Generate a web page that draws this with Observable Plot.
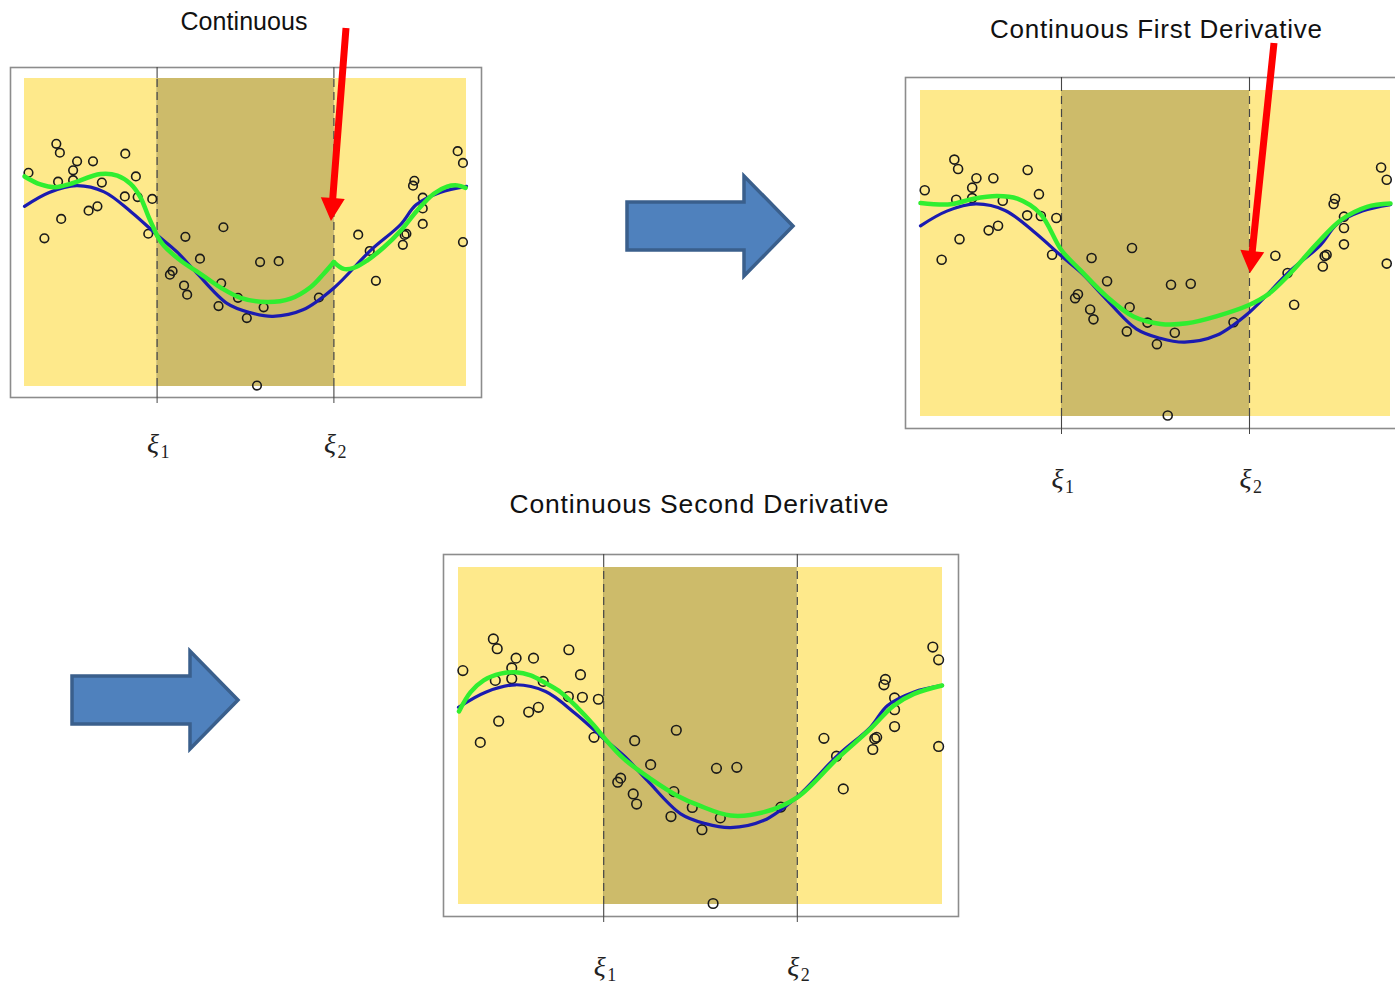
<!DOCTYPE html>
<html><head><meta charset="utf-8">
<script src="https://cdn.jsdelivr.net/npm/d3@7"></script>
<script src="https://cdn.jsdelivr.net/npm/@observablehq/plot@0.6"></script>
<style>
html,body{margin:0;padding:0;background:#fff;}
body{width:1395px;height:986px;overflow:hidden;position:relative;}
.panel{position:absolute;}
.panel svg{background:transparent !important;max-width:none !important;overflow:visible;}
#overlay{position:absolute;left:0;top:0;pointer-events:none;}
</style></head><body>
<div id="p1" class="panel"></div>
<div id="p2" class="panel"></div>
<div id="p3" class="panel"></div>
<svg id="overlay" width="1395" height="986"></svg>
<script>
// ---- data (x, y normalised to the plotting region) ----
const knots = [0.3, 0.7];
const knotSymbol = ["ξ", "ξ"];
const knotSubscript = ["1", "2"];
const titles = ["Continuous", "Continuous First Derivative", "Continuous Second Derivative"];

const observations = [
  [0.009,0.694],[0.045,0.481],[0.072,0.788],[0.076,0.665],[0.080,0.759],[0.083,0.544],
  [0.110,0.702],[0.110,0.670],[0.119,0.731],[0.145,0.571],[0.155,0.731],[0.165,0.585],
  [0.175,0.662],[0.227,0.617],[0.228,0.756],[0.252,0.682],[0.256,0.615],[0.280,0.496],
  [0.289,0.609],[0.329,0.363],[0.335,0.375],[0.361,0.328],[0.364,0.486],[0.368,0.298],
  [0.397,0.415],[0.439,0.261],[0.445,0.335],[0.450,0.517],[0.483,0.288],[0.503,0.222],
  [0.526,0.003],[0.533,0.404],[0.541,0.257],[0.575,0.407],[0.666,0.289],[0.755,0.493],
  [0.781,0.440],[0.795,0.343],[0.856,0.460],[0.860,0.492],[0.864,0.496],[0.879,0.652],
  [0.882,0.668],[0.901,0.613],[0.901,0.578],[0.901,0.528],[0.980,0.764],[0.992,0.726],
  [0.992,0.469]
];

const trueCurve = [
  [0,0.585],[0.056,0.630],[0.118,0.652],[0.180,0.632],[0.242,0.566],[0.300,0.492],
  [0.345,0.437],[0.390,0.368],[0.459,0.269],[0.510,0.240],[0.562,0.228],[0.630,0.249],
  [0.700,0.320],[0.783,0.442],[0.851,0.526],[0.886,0.590],[0.940,0.630],[1.0,0.650]
];

// Continuous piecewise cubic (three pieces, kink at the knots)
const fitContinuous = [
  [[0,0.682],[0.036,0.656],[0.070,0.647],[0.104,0.658],[0.172,0.690],[0.210,0.685],
   [0.240,0.658],[0.262,0.615],[0.281,0.550],[0.3,0.490]],
  [[0.3,0.490],[0.315,0.458],[0.353,0.409],[0.398,0.366],[0.443,0.322],[0.489,0.288],
   [0.549,0.274],[0.602,0.285],[0.647,0.322],[0.677,0.366],[0.7,0.404]],
  [[0.7,0.404],[0.722,0.382],[0.745,0.385],[0.775,0.409],[0.813,0.452],[0.851,0.506],
   [0.888,0.571],[0.926,0.626],[0.956,0.649],[0.979,0.653],[0.998,0.645]]
];

// Continuous first derivative
const fitFirstDeriv = [
  [[0,0.655],[0.064,0.651],[0.113,0.668],[0.163,0.676],[0.206,0.668],[0.255,0.622],
   [0.300,0.510],[0.340,0.449],[0.397,0.367],[0.454,0.306],[0.511,0.284],[0.567,0.286],
   [0.631,0.308],[0.699,0.342],[0.738,0.373],[0.780,0.429],[0.844,0.531],[0.894,0.602],
   [0.950,0.643],[1.0,0.653]]
];

// Continuous second derivative (cubic spline)
const fitSecondDeriv = [
  [[0.001,0.573],[0.025,0.630],[0.052,0.665],[0.087,0.685],[0.118,0.689],[0.149,0.680],
   [0.176,0.660],[0.211,0.630],[0.245,0.585],[0.280,0.531],[0.300,0.496],[0.342,0.432],
   [0.397,0.373],[0.452,0.323],[0.497,0.294],[0.562,0.264],[0.631,0.274],[0.700,0.318],
   [0.782,0.432],[0.851,0.521],[0.899,0.590],[0.941,0.625],[0.999,0.650]]
];

// ---- styling / layout ----
const LIGHT = "#FEE98B", DARK = "#CDBB6A", KNOT = "#454545";

function panel(id, L, pieces) {
  const el = document.getElementById(id);
  el.style.left = L.left + "px"; el.style.top = L.top + "px";
  el.style.width = L.width + "px"; el.style.height = L.height + "px";
  const fit = pieces.flatMap((piece, k) => piece.map(([x, y]) => ({x, y, k})));
  const outer = [{x1: 0, x2: knots[0]}, {x1: knots[1], x2: 1}];
  const inner = [{x1: knots[0], x2: knots[1]}];
  const chart = Plot.plot({
    width: L.width, height: L.height,
    marginLeft: L.ml, marginRight: L.mr, marginTop: L.mt, marginBottom: L.mb,
    x: {domain: [0, 1], insetLeft: L.il, insetRight: L.ir, axis: null},
    y: {domain: [0, 1], insetTop: L.it, insetBottom: L.ib, axis: null},
    style: {background: "transparent", overflow: "visible"},
    marks: [
      Plot.frame({stroke: "#8c8c8c", strokeWidth: 1.6}),
      Plot.ruleX(knots, {stroke: KNOT, strokeWidth: 1.1}),
      Plot.rect(outer, {x1: "x1", x2: "x2", y1: 0, y2: 1, fill: LIGHT}),
      Plot.rect(inner, {x1: "x1", x2: "x2", y1: 0, y2: 1, fill: DARK}),
      Plot.ruleX(knots, {y1: 0, y2: 1, stroke: KNOT, strokeWidth: 1.2, strokeDasharray: "8,5"}),
      Plot.dot(observations, {x: d => d[0], y: d => d[1], r: L.r, stroke: "#1a1a1a", strokeWidth: 1.6}),
      Plot.line(trueCurve, {x: d => d[0], y: d => d[1], stroke: "#1b1bb0", strokeWidth: 3.2, curve: "catmull-rom"}),
      Plot.line(fit, {x: "x", y: "y", z: "k", stroke: "#30ee30", strokeWidth: 4.5, curve: "catmull-rom"}),
      Plot.axisX(knots, {tickSize: 6, tickFormat: () => "", label: null, stroke: KNOT}),
      Plot.text(knots, {x: d => d, frameAnchor: "bottom", dy: L.ldy, dx: -4,
        text: (d, i) => knotSymbol[i], fontSize: 28, fontFamily: "'Liberation Serif', 'DejaVu Serif', serif",
        fontStyle: "italic", fill: "#222"}),
      Plot.text(knots, {x: d => d, frameAnchor: "bottom", dy: L.ldy + 5, dx: 8,
        text: (d, i) => knotSubscript[i], fontSize: 18, fontFamily: "'Liberation Serif', 'DejaVu Serif', serif",
        fill: "#222"})
    ]
  });
  el.appendChild(chart);
}

panel("p1", {left: 0, top: 0, width: 495, height: 470, ml: 10, mr: 14, mt: 67, mb: 73,
             il: 14, ir: 15, it: 11, ib: 11, ldy: 55, r: 4.3}, fitContinuous);
panel("p2", {left: 895, top: 0, width: 520, height: 510, ml: 10, mr: 10, mt: 77, mb: 82,
             il: 15, ir: 15, it: 13, ib: 12, ldy: 59, r: 4.5}, fitFirstDeriv);
panel("p3", {left: 433, top: 480, width: 540, height: 506, ml: 10, mr: 15, mt: 74, mb: 70,
             il: 15, ir: 16, it: 13, ib: 12, ldy: 59, r: 4.8}, fitSecondDeriv);

// ---- annotations: titles and arrows ----
const overlay = d3.select("#overlay");
const titleSpecs = [
  {cx: 244, base: 30, size: 25, len: 127},
  {cx: 1156, base: 38, size: 26, len: 332},
  {cx: 699, base: 513, size: 26.5, len: 379}
];
titleSpecs.forEach((t, i) => {
  overlay.append("text").attr("x", t.cx).attr("y", t.base)
    .attr("text-anchor", "middle").attr("font-family", "'Liberation Sans', Arial, sans-serif")
    .attr("font-size", t.size).attr("fill", "#111")
    .attr("textLength", t.len).attr("lengthAdjust", "spacing")
    .text(titles[i]);
});

function arrowPoly(x0, y0, x1, y1, sw, hw, hl) {
  const dx = x1 - x0, dy = y1 - y0, Ln = Math.hypot(dx, dy);
  const ux = dx / Ln, uy = dy / Ln, nx = -uy, ny = ux;
  const bx = x1 - ux * hl, by = y1 - uy * hl;
  return [
    [x0 + nx * sw / 2, y0 + ny * sw / 2], [bx + nx * sw / 2, by + ny * sw / 2],
    [bx + nx * hw / 2, by + ny * hw / 2], [x1, y1],
    [bx - nx * hw / 2, by - ny * hw / 2], [bx - nx * sw / 2, by - ny * sw / 2],
    [x0 - nx * sw / 2, y0 - ny * sw / 2]
  ].map(p => p.join(",")).join(" ");
}
const blockArrows = [
  {from: [627, 226], to: [793, 226], sw: 48, hw: 100, hl: 49},
  {from: [72, 700], to: [238, 700], sw: 48, hw: 98, hl: 48}
];
blockArrows.forEach(a => {
  overlay.append("polygon")
    .attr("points", arrowPoly(a.from[0], a.from[1], a.to[0], a.to[1], a.sw, a.hw, a.hl))
    .attr("fill", "#4F81BD").attr("stroke", "#3A5F8C").attr("stroke-width", 3.5)
    .attr("stroke-linejoin", "miter");
});
const redArrows = [
  {from: [346, 28], to: [331, 221], sw: 7, hw: 24, hl: 23},
  {from: [1274, 43], to: [1250, 273], sw: 7, hw: 24, hl: 22}
];
redArrows.forEach(a => {
  overlay.append("polygon")
    .attr("points", arrowPoly(a.from[0], a.from[1], a.to[0], a.to[1], a.sw, a.hw, a.hl))
    .attr("fill", "#FF0000");
});
</script>
</body></html>
